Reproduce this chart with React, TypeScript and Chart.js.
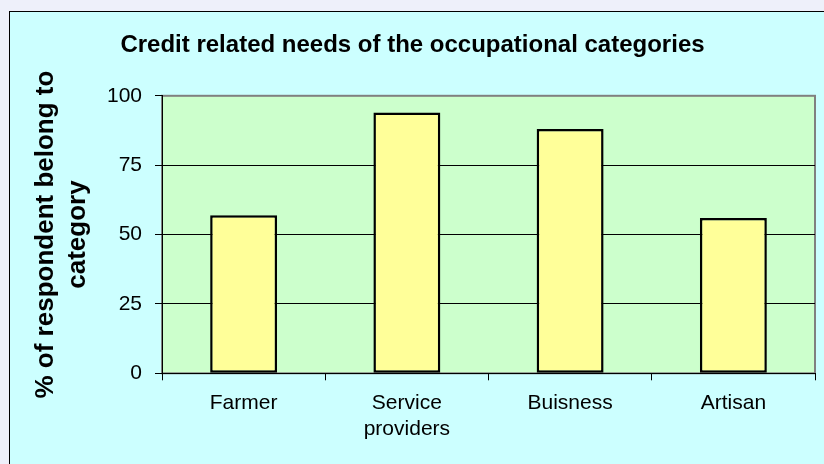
import React, { useEffect, useRef } from "react";
import { Chart, registerables } from "chart.js";

Chart.register(...registerables);

const chartTitle = "Credit related needs of the occupational categories";
const yAxisTitle = ["% of respondent belong to", "category"];
const categories: string[][] = [["Farmer"], ["Service", "providers"], ["Buisness"], ["Artisan"]];
const respondentShare: number[] = [57, 94, 88, 56];
const yTickValues: number[] = [0, 25, 50, 75, 100];

const FONT = "'Liberation Sans', Arial, Helvetica, sans-serif";

const plotBackground = {
  id: "plotBackground",
  beforeDraw(chart: any) {
    const { ctx, chartArea: a } = chart;
    if (!a) return;
    ctx.save();
    ctx.fillStyle = "#ccffcc";
    ctx.fillRect(a.left, a.top, a.right - a.left, a.bottom - a.top);
    ctx.strokeStyle = "#808080";
    ctx.lineWidth = 2;
    ctx.strokeRect(a.left, a.top, a.right - a.left, a.bottom - a.top);
    ctx.restore();
  },
};

export default function App() {
  const canvasRef = useRef<HTMLCanvasElement | null>(null);

  useEffect(() => {
    if (!canvasRef.current) return;
    const yMax = yTickValues[yTickValues.length - 1];
    const chart = new Chart(canvasRef.current, {
      type: "bar",
      data: {
        labels: categories,
        datasets: [
          {
            data: respondentShare,
            backgroundColor: "#ffff99",
            borderColor: "#000000",
            borderWidth: 2.5,
            borderSkipped: false,
            categoryPercentage: 1,
            barPercentage: 0.41,
          },
        ],
      },
      options: {
        responsive: false,
        animation: false,
        devicePixelRatio: 1,
        layout: { padding: { left: 0, right: 19, top: 0, bottom: 0 } },
        plugins: {
          legend: { display: false },
          tooltip: { enabled: false },
          title: {
            display: true,
            text: chartTitle,
            color: "#000000",
            font: { family: FONT, size: 24, weight: "bold", lineHeight: 1.2 },
            padding: { top: 19, bottom: 36 },
          },
        },
        scales: {
          x: {
            grid: {
              display: true,
              drawOnChartArea: false,
              drawTicks: true,
              tickLength: 7,
              tickColor: "#000000",
              color: "#000000",
              offset: true,
            },
            border: { display: true, color: "#000000", width: 1 },
            ticks: {
              color: "#000000",
              padding: 10,
              maxRotation: 0,
              autoSkip: false,
              font: { family: FONT, size: 21, lineHeight: 1.25 },
            },
            afterFit(scale: any) {
              scale.height = 90.7;
            },
          },
          y: {
            min: yTickValues[0],
            max: yMax,
            ticks: {
              stepSize: yTickValues[1] - yTickValues[0],
              color: "#000000",
              padding: 13,
              font: { family: FONT, size: 21 },
            },
            grid: {
              drawTicks: true,
              tickLength: 7,
              tickColor: "#000000",
              lineWidth: 1,
              color: (ctx: any) =>
                ctx.tick && ctx.tick.value === yMax ? "rgba(0,0,0,0)" : "#000000",
            },
            border: { display: true, color: "#000000", width: 1 },
            title: {
              display: true,
              text: yAxisTitle,
              color: "#000000",
              font: { family: FONT, size: 26, weight: "bold", lineHeight: 32 / 26 },
              padding: { top: 19.5, bottom: 0 },
            },
            afterFit(scale: any) {
              scale.width = 152;
            },
          },
        },
      },
      plugins: [plotBackground],
    });
    return () => chart.destroy();
  }, []);

  return (
    <div
      style={{
        position: "fixed",
        left: 0,
        top: 0,
        width: 824,
        height: 464,
        background: "#eef0fa",
        overflow: "hidden",
      }}
    >
      <div
        style={{
          position: "absolute",
          left: 9,
          top: 11,
          width: 840,
          height: 480,
          border: "1px solid #000000",
          background: "#ccffff",
        }}
      >
        <canvas
          ref={canvasRef}
          width={824}
          height={452}
          style={{ position: "absolute", left: 0, top: 0, width: 824, height: 452 }}
        />
      </div>
    </div>
  );
}
